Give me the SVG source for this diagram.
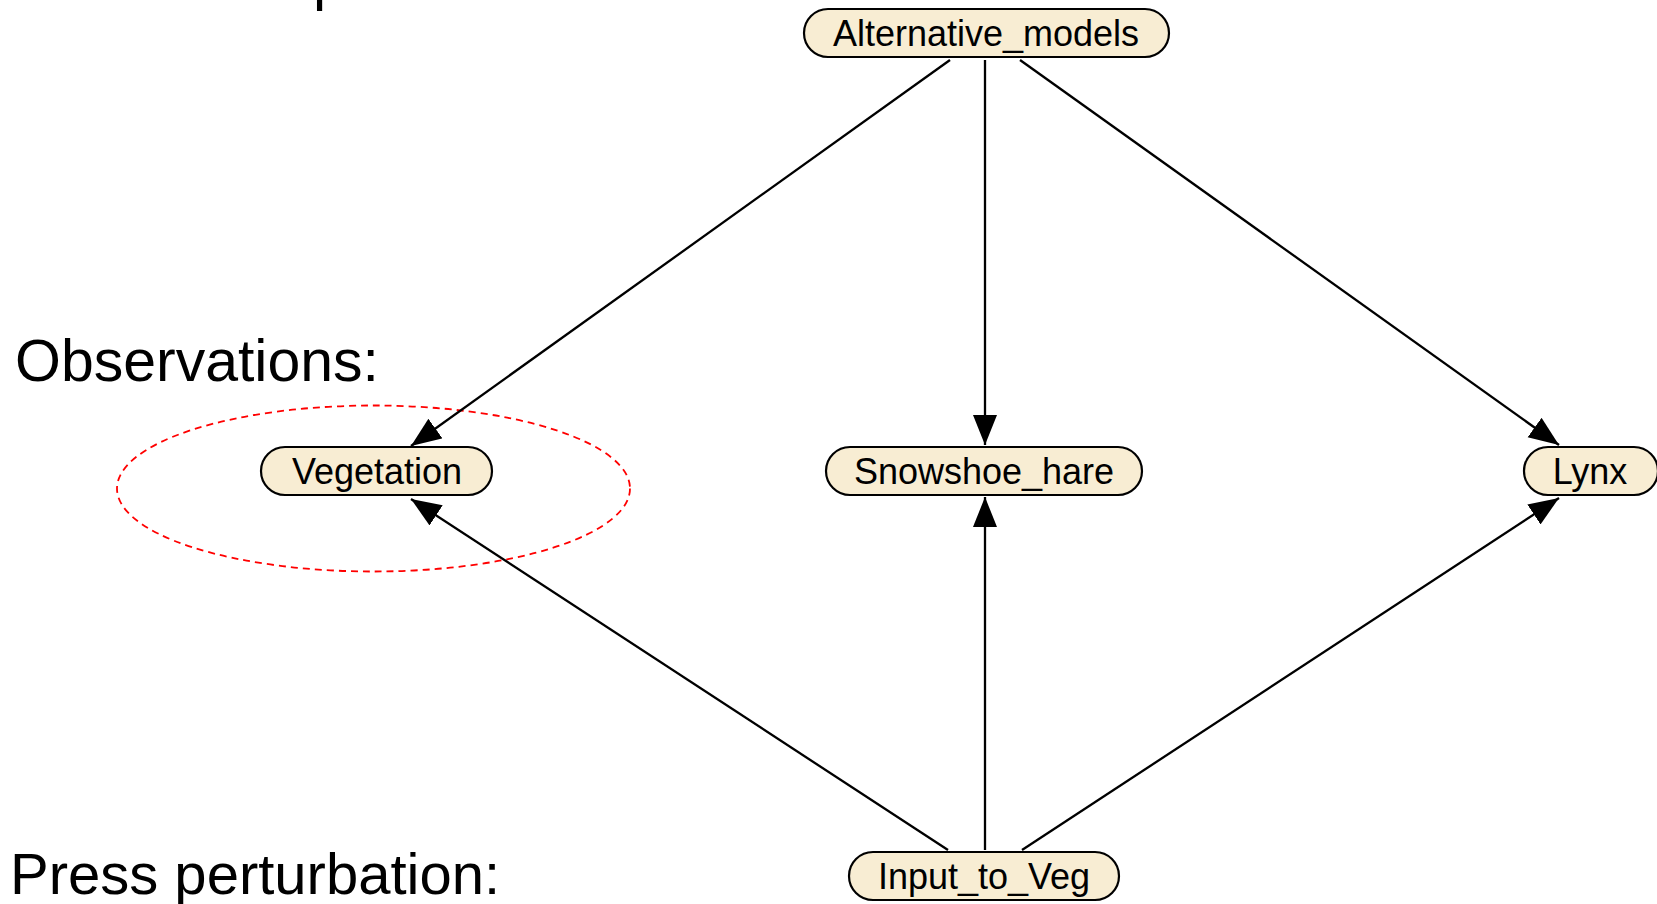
<svg xmlns="http://www.w3.org/2000/svg" width="1657" height="904" viewBox="0 0 1657 904">
<defs>
<style>
.node rect{fill:#f8edd3;stroke:#000;stroke-width:2.2}
.node text{font-family:"Liberation Sans",Arial,sans-serif;font-size:36px;fill:#000;text-anchor:middle}
.lbl{font-family:"Liberation Sans",Arial,sans-serif;font-size:59px;fill:#000}
.edge{stroke:#000;stroke-width:2.3;fill:none;marker-end:url(#arr)}
</style>
<marker id="arr" markerUnits="userSpaceOnUse" markerWidth="32" markerHeight="26" refX="30" refY="12" orient="auto" viewBox="0 0 32 26">
<path d="M0,0 L30,12 L0,24 z" fill="#000"/>
</marker>
</defs>
<rect width="1657" height="904" fill="#fff"/>
<text class="lbl" x="313" y="-1">p</text>
<text class="lbl" x="15" y="381">Observations:</text>
<text class="lbl" x="10" y="894" style="font-size:58px">Press perturbation:</text>
<ellipse cx="373.5" cy="488.5" rx="256.5" ry="83" fill="none" stroke="#ff0000" stroke-width="1.8" stroke-dasharray="7,5"/>
<g id="connectors">
<line class="edge" x1="950" y1="60" x2="411" y2="446"/>
<line class="edge" x1="985" y1="60" x2="985" y2="445"/>
<line class="edge" x1="1020" y1="60" x2="1559" y2="445"/>
<line class="edge" x1="948" y1="850" x2="411" y2="499"/>
<line class="edge" x1="985" y1="850" x2="985" y2="497"/>
<line class="edge" x1="1022" y1="850" x2="1559" y2="498"/>
</g>
<g id="Alternative_models" class="node"><rect x="804" y="9" width="365" height="48" rx="24"/><text x="986" y="46">Alternative_models</text></g>
<g id="Vegetation" class="node"><rect x="261" y="447" width="231" height="48" rx="24"/><text x="377" y="484">Vegetation</text></g>
<g id="Snowshoe_hare" class="node"><rect x="826" y="447" width="316" height="48" rx="24"/><text x="984" y="484">Snowshoe_hare</text></g>
<g id="Lynx" class="node"><rect x="1524" y="447" width="134" height="48" rx="24"/><text x="1590" y="484">Lynx</text></g>
<g id="Input_to_Veg" class="node"><rect x="849" y="852" width="270" height="48" rx="24"/><text x="984" y="889">Input_to_Veg</text></g>
</svg>
